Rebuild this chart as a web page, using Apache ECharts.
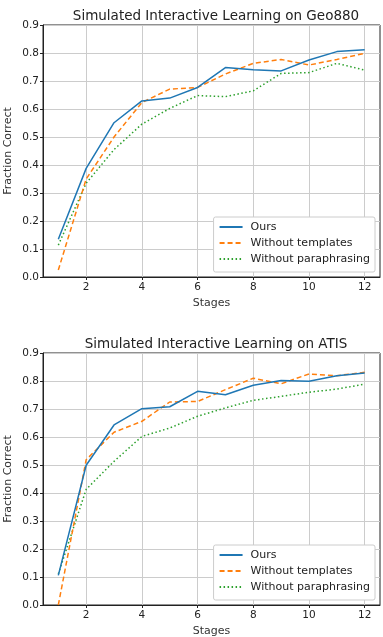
<!DOCTYPE html>
<html>
<head>
<meta charset="utf-8">
<script src="https://cdn.jsdelivr.net/npm/echarts@6/dist/echarts.min.js"></script>
<style>
  html, body { margin: 0; padding: 0; background: #fff; }
  #chart { width: 383px; height: 637px; }
</style>
</head>
<body>
<div id="chart"></div>
<script>
// stages 1..12
var stages = [1, 2, 3, 4, 5, 6, 7, 8, 9, 10, 11, 12]
var seriesNames = ['Ours', 'Without templates', 'Without paraphrasing']
var titles = ['Simulated Interactive Learning on Geo880', 'Simulated Interactive Learning on ATIS']
var xTicks = [2, 4, 6, 8, 10, 12]

// Geo880
var geoOurs = [0.135, 0.388, 0.551, 0.629, 0.639, 0.677, 0.748, 0.740, 0.736, 0.775, 0.805, 0.812]
var geoNoTemplates = [0.025, 0.350, 0.500, 0.623, 0.671, 0.677, 0.725, 0.763, 0.777, 0.757, 0.777, 0.799]
var geoNoParaphrase = [0.114, 0.335, 0.455, 0.546, 0.602, 0.648, 0.644, 0.665, 0.727, 0.730, 0.763, 0.739]

// ATIS
var atisOurs = [0.106, 0.499, 0.643, 0.701, 0.708, 0.763, 0.751, 0.785, 0.802, 0.799, 0.819, 0.829]
var atisNoTemplates = [0.0, 0.519, 0.617, 0.656, 0.725, 0.727, 0.769, 0.810, 0.790, 0.825, 0.819, 0.831]
var atisNoParaphrase = [0.111, 0.413, 0.513, 0.602, 0.632, 0.674, 0.704, 0.731, 0.745, 0.760, 0.771, 0.789]

var colors = ['#1f77b4', '#ff7f0e', '#2ca02c']
var lineTypes = ['solid', [5, 3], [1.5, 2.5]]
var font = 'DejaVu Sans'

function pairs (ys) {
  return stages.map(function (x, i) { return [x, ys[i]] })
}

var grids = [
  {left: 43, right: 3, top: 25, height: 252},
  {left: 43, right: 3, top: 353, height: 252}
]

function xAxis (idx) {
  return {
    type: 'value',
    gridIndex: idx,
    min: 0.45,
    max: 12.55,
    name: 'Stages',
    nameLocation: 'middle',
    nameGap: 21,
    nameMoveOverlap: false,
    nameTextStyle: {fontFamily: font, fontSize: 11, color: '#333'},
    axisLine: {show: true, onZero: false, lineStyle: {color: '#222', width: 1}},
    axisTick: {show: true, length: 3, customValues: xTicks, lineStyle: {color: '#222'}},
    axisLabel: {customValues: xTicks, fontFamily: font, fontSize: 10.5, color: '#222', margin: 5},
    splitLine: {show: true, lineStyle: {color: '#cccccc', width: 1}}
  }
}

function yAxis (idx) {
  return {
    type: 'value',
    gridIndex: idx,
    min: 0,
    max: 0.9,
    interval: 0.1,
    name: 'Fraction Correct',
    nameLocation: 'middle',
    nameGap: 29,
    nameMoveOverlap: false,
    nameTextStyle: {fontFamily: font, fontSize: 11, color: '#333'},
    axisLine: {show: true, lineStyle: {color: '#222', width: 1}},
    axisTick: {show: true, length: 3, lineStyle: {color: '#222'}},
    axisLabel: {
      fontFamily: font, fontSize: 10.5, color: '#222', margin: 4,
      formatter: function (v) { return v.toFixed(1) }
    },
    splitLine: {show: true, lineStyle: {color: '#cccccc', width: 1}}
  }
}

var data = [
  [geoOurs, geoNoTemplates, geoNoParaphrase],
  [atisOurs, atisNoTemplates, atisNoParaphrase]
]

var series = []
data.forEach(function (group, g) {
  group.forEach(function (ys, s) {
    series.push({
      name: seriesNames[s],
      type: 'line',
      xAxisIndex: g,
      yAxisIndex: g,
      symbol: 'none',
      silent: true,
      z: 3 - s,
      lineStyle: {color: colors[s], width: 1.5, type: lineTypes[s]},
      itemStyle: {color: colors[s]},
      data: pairs(ys)
    })
  })
})

function legend (top) {
  return {
    data: seriesNames,
    orient: 'vertical',
    right: 8,
    top: top,
    itemWidth: 23,
    itemHeight: 8,
    itemGap: 4,
    padding: [4, 5, 7, 5],
    borderColor: '#cccccc',
    borderWidth: 1,
    borderRadius: 2,
    backgroundColor: '#fff',
    itemStyle: {opacity: 0},
    textStyle: {fontFamily: font, fontSize: 11, color: '#222', lineHeight: 12, padding: [0, 0, 0, 3]}
  }
}

var chart = echarts.init(document.getElementById('chart'))
chart.setOption({
  animation: false,
  title: titles.map(function (t, i) {
    return {
      text: t,
      left: 211,
      textAlign: 'center',
      top: i === 0 ? 4 : 332,
      textStyle: {fontFamily: font, fontSize: 13.5, fontWeight: 'normal', color: '#222'}
    }
  }),
  grid: grids.map(function (g) {
    return Object.assign({show: true, borderColor: '#222', borderWidth: 1, backgroundColor: '#fff', outerBoundsMode: 'none'}, g)
  }),
  legend: [legend(217), legend(545)],
  xAxis: [xAxis(0), xAxis(1)],
  yAxis: [yAxis(0), yAxis(1)],
  series: series
})
</script>
</body>
</html>
